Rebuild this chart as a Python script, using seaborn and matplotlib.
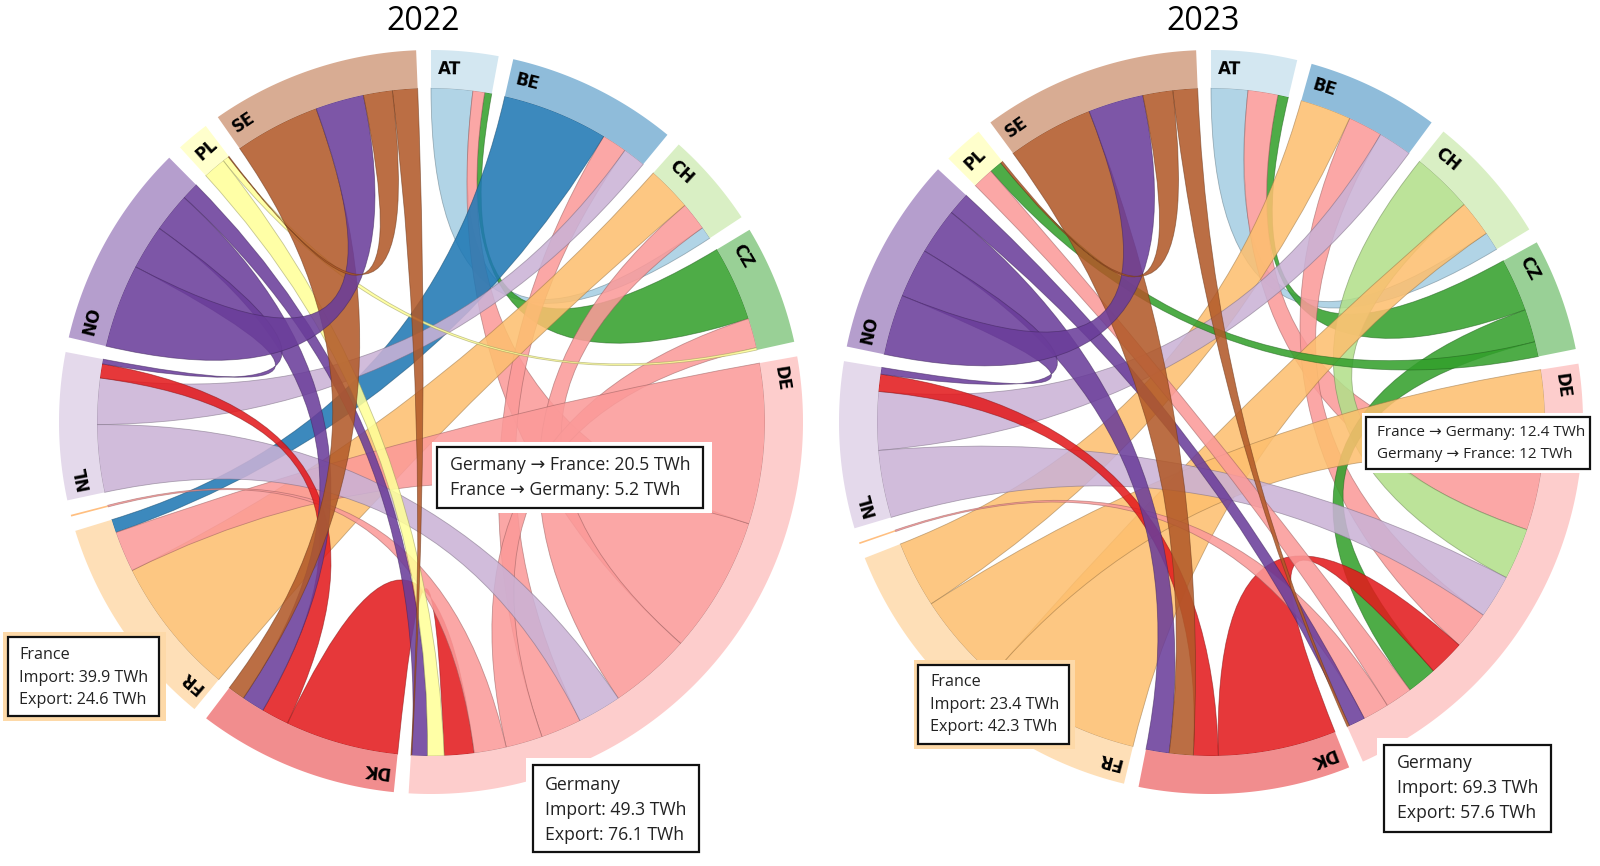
import numpy as np
import matplotlib
matplotlib.use("Agg")
import matplotlib.pyplot as plt
from matplotlib.path import Path
from matplotlib.patches import PathPatch, Rectangle
import seaborn as sns

sns.set_theme(style="white")
plt.rcParams["font.family"] = ["Open Sans", "DejaVu Sans"]

# ---------------- data ----------------
countries = ["AT", "BE", "CH", "CZ", "DE", "DK", "FR", "LU", "NL", "NO", "PL", "SE"]
years = ["2022", "2023"]

# physical flows exporter -> importer (TWh)
src_2022 = ["AT", "AT", "AT", "BE", "BE", "BE", "CH", "CH", "CH", "CZ", "CZ", "CZ",
            "DE", "DE", "DE", "DE", "DE", "DE", "DE", "DE", "DE", "DE", "DE",
            "DK", "DK", "DK", "DK", "FR", "FR", "FR", "LU",
            "NL", "NL", "NL", "NL", "NO", "NO", "NO", "NO",
            "PL", "PL", "PL", "SE", "SE", "SE", "SE"]
dst_2022 = ["CH", "DE", "CZ", "FR", "DE", "NL", "FR", "DE", "AT", "AT", "DE", "PL",
            "FR", "AT", "CH", "NL", "BE", "CZ", "LU", "DK", "PL", "NO", "SE",
            "DE", "NL", "NO", "SE", "CH", "DE", "BE", "DE",
            "DE", "BE", "DK", "NO", "SE", "NL", "DK", "DE",
            "DE", "CZ", "SE", "DK", "NO", "PL", "DE"]
val_2022 = [5.3, 1.5, 0.9, 13.5, 3.2, 2.9, 5.7, 3.6, 1.6, 9.6, 3.8, 0.3,
            20.5, 17.5, 10.5, 5.6, 5.2, 4.7, 4.1, 3.8, 2.1, 2.0, 0.1,
            14.5, 3.5, 2.9, 2.2, 17.7, 5.2, 1.7, 0.2,
            8.6, 5.9, 1.8, 0.6, 10.7, 5.7, 5.0, 2.2,
            2.9, 0.8, 0.1, 10.9, 6.2, 3.7, 3.2]

src_2023 = ["AT", "AT", "AT", "BE", "BE", "BE", "CH", "CH", "CH", "CZ", "CZ", "CZ",
            "DE", "DE", "DE", "DE", "DE", "DE", "DE", "DE", "DE", "DE", "DE",
            "DK", "DK", "DK", "DK", "FR", "FR", "FR", "LU",
            "NL", "NL", "NL", "NL", "NO", "NO", "NO", "NO",
            "PL", "PL", "PL", "SE", "SE", "SE", "SE"]
dst_2023 = ["CH", "DE", "CZ", "FR", "DE", "NL", "DE", "FR", "AT", "AT", "DE", "PL",
            "FR", "AT", "CH", "NL", "BE", "DK", "CZ", "PL", "LU", "NO", "SE",
            "DE", "NL", "SE", "NO", "CH", "DE", "BE", "DE",
            "DE", "BE", "DK", "NO", "SE", "NL", "DK", "DE",
            "DE", "CZ", "SE", "DK", "NO", "PL", "DE"]
val_2023 = [4.9, 4.0, 1.4, 6.8, 4.6, 4.5, 8.2, 4.8, 2.5, 7.1, 4.4, 2.0,
            12.0, 9.4, 6.9, 5.8, 5.1, 4.8, 4.0, 3.6, 3.5, 2.2, 0.3,
            15.8, 3.3, 3.2, 3.1, 21.0, 12.4, 8.9, 0.2,
            9.0, 7.8, 2.3, 0.9, 8.1, 6.6, 6.2, 3.0,
            2.8, 1.7, 0.3, 11.5, 7.4, 4.0, 3.3]

tooltips_2022 = [
    ["Germany \u2192 France: 20.5 TWh", "France \u2192 Germany: 5.2 TWh"],
    ["France", "Import: 39.9 TWh", "Export: 24.6 TWh"],
    ["Germany", "Import: 49.3 TWh", "Export: 76.1 TWh"],
]
tooltips_2023 = [
    ["France \u2192 Germany: 12.4 TWh", "Germany \u2192 France: 12 TWh"],
    ["France", "Import: 23.4 TWh", "Export: 42.3 TWh"],
    ["Germany", "Import: 69.3 TWh", "Export: 57.6 TWh"],
]

# ---------------- layout / style ----------------
W, H = 1600, 866
centers = [(431, 422), (1211, 422)]
title_x = [423, 1203]
R_IN, R_OUT = 334, 372
PAD = 0.04
palette = sns.color_palette("Paired", 12)
CHORD_ALPHA = 0.87

fig = plt.figure(figsize=(16, 8.66), dpi=100)
ax = fig.add_axes([0, 0, 1, 1])
ax.set_xlim(0, W)
ax.set_ylim(H, 0)
ax.axis("off")


def build_matrix(src, dst, val):
    n = len(countries)
    m = np.zeros((n, n))
    for s, d, v in zip(src, dst, val):
        m[countries.index(s), countries.index(d)] = v
    return m


def chord_layout(m):
    n = len(m)
    k = (2 * np.pi - PAD * n) / m.sum()
    x = 0.0
    groups, sub = [], {}
    for i in range(n):
        x0 = x
        order = sorted(range(n), key=lambda j: -m[i, j])
        for j in order:
            w = m[i, j] * k
            sub[(i, j)] = (x, x + w)
            x += w
        groups.append((x0, x))
        x += PAD
    return groups, sub


def mix_white(c, a):
    return tuple(1 - a * (1 - np.array(c[:3])))


def draw_chart(m, cx, cy):
    def P(t, r):
        return (cx + r * np.sin(t), cy - r * np.cos(t))

    def arc_pts(a0, a1, r):
        nseg = max(2, int(abs(a1 - a0) / np.radians(0.4)) + 2)
        return [P(t, r) for t in np.linspace(a0, a1, nseg)]

    groups, sub = chord_layout(m)
    n = len(m)
    # ribbons
    for i in range(n):
        for j in range(i + 1, n):
            if m[i, j] + m[j, i] <= 0:
                continue
            s, t = (i, j) if m[i, j] >= m[j, i] else (j, i)
            s0, s1 = sub[(s, t)]
            t0, t1 = sub[(t, s)]
            verts, codes = [], []
            pts = arc_pts(s0, s1, R_IN)
            verts += pts
            codes += [Path.MOVETO] + [Path.LINETO] * (len(pts) - 1)
            verts += [(cx, cy), P(t0, R_IN)]
            codes += [Path.CURVE3, Path.CURVE3]
            pts = arc_pts(t0, t1, R_IN)
            verts += pts[1:]
            codes += [Path.LINETO] * (len(pts) - 1)
            verts += [(cx, cy), P(s0, R_IN), P(s0, R_IN)]
            codes += [Path.CURVE3, Path.CURVE3, Path.CLOSEPOLY]
            col = palette[s]
            edge = tuple(np.array(col) * 0.6) + (0.55,)
            ax.add_patch(PathPatch(Path(verts, codes),
                                   facecolor=tuple(col) + (CHORD_ALPHA,),
                                   edgecolor=edge, lw=0.6, zorder=2))
    # group rings and labels
    for i, (g0, g1) in enumerate(groups):
        if g1 - g0 <= 0:
            continue
        pts_out = arc_pts(g0, g1, R_OUT)
        pts_in = arc_pts(g1, g0, R_IN)
        ax.add_patch(plt.Polygon(pts_out + pts_in, closed=True,
                                 facecolor=mix_white(palette[i], 0.5),
                                 edgecolor="none", zorder=3))
        if np.degrees(g1 - g0) > 3:
            ta = g0 + 7.0 / 353
            x, y = P(ta, 353)
            ax.text(x, y, countries[i], rotation=-np.degrees(ta), rotation_mode="anchor",
                    ha="left", va="center", fontsize=12, fontweight="bold",
                    family="DejaVu Sans", color="black", zorder=4)


def tooltip(lines, box, halo, halo_color, text_x, ys, fs):
    hx0, hy0, hx1, hy1 = halo
    ax.add_patch(Rectangle((hx0, hy0), hx1 - hx0, hy1 - hy0, facecolor=halo_color,
                           edgecolor="none", zorder=5))
    bx0, by0, bx1, by1 = box
    ax.add_patch(Rectangle((bx0, by0), bx1 - bx0, by1 - by0, facecolor="white",
                           edgecolor="#111111", lw=1.6, zorder=6))
    for line, y in zip(lines, ys):
        ax.text(text_x, y, line, ha="left", va="center", fontsize=fs,
                color="#222222", zorder=7)


mats = [build_matrix(src_2022, dst_2022, val_2022),
        build_matrix(src_2023, dst_2023, val_2023)]

for k, (m, (cx, cy)) in enumerate(zip(mats, centers)):
    draw_chart(m, cx, cy)
    ax.text(title_x[k], 21, years[k], ha="center", va="center", fontsize=23,
            color="black", zorder=8)

fr_halo = "#fdd9a8"
BIG, SMALL, FRBOX = 12.7, 11.0, 11.6
# 2022 tooltips
tooltip(tooltips_2022[0], (437, 447, 703, 508), (432, 442, 712, 513), "white", 450, [465, 490], BIG)
tooltip(tooltips_2022[1], (8, 637, 159, 716), (3, 632, 166, 721), fr_halo, 19, [655, 678, 700], FRBOX)
tooltip(tooltips_2022[2], (533, 765, 699, 852), (526, 758, 705, 858), "white", 545, [785, 810, 835], BIG)
# 2023 tooltips
tooltip(tooltips_2023[0], (1366, 417, 1590, 469), (1362, 413, 1597, 473), "white", 1377, [433, 454], SMALL)
tooltip(tooltips_2023[1], (918, 665, 1069, 744), (914, 660, 1075, 749), fr_halo, 930, [682, 705, 727], FRBOX)
tooltip(tooltips_2023[2], (1384, 745, 1551, 832), (1377, 738, 1557, 838), "white", 1397, [763, 788, 813], BIG)

fig.savefig("out.png", dpi=100, facecolor="white")
